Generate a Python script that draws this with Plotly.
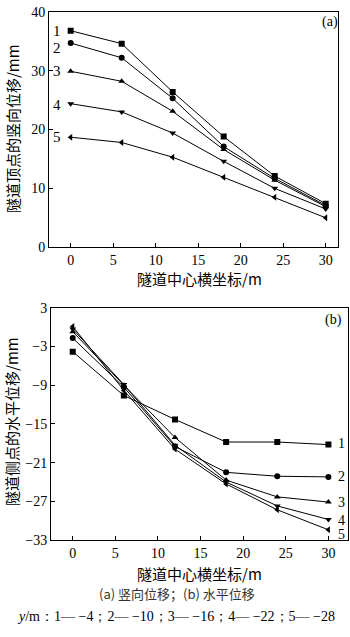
import plotly.graph_objects as go

x_pos = [0, 6, 12, 18, 24, 30]
series_names = ["1", "2", "3", "4", "5"]
marker_symbols = ["square", "circle", "triangle-up", "triangle-down", "triangle-left"]

# (a) vertical displacement at tunnel crown, mm
vert_1 = [36.8, 34.6, 26.4, 18.8, 12.1, 7.4]
vert_2 = [34.7, 32.2, 25.3, 17.1, 11.7, 7.1]
vert_3 = [29.9, 28.2, 23.1, 16.6, 11.4, 6.9]
vert_4 = [24.4, 23.0, 19.4, 14.6, 10.0, 6.5]
vert_5 = [18.7, 17.8, 15.3, 11.9, 8.5, 5.0]

# (b) horizontal displacement at tunnel side, mm
horiz_1 = [-3.8, -10.6, -14.3, -17.8, -17.8, -18.2]
horiz_2 = [-1.7, -9.3, -18.5, -22.5, -23.1, -23.2]
horiz_3 = [-0.7, -9.0, -17.1, -23.7, -26.3, -27.1]
horiz_4 = [-0.3, -8.9, -18.3, -24.0, -27.7, -29.8]
horiz_5 = [0.1, -9.8, -18.9, -24.3, -28.3, -31.4]

vert = [vert_1, vert_2, vert_3, vert_4, vert_5]
horiz = [horiz_1, horiz_2, horiz_3, horiz_4, horiz_5]

# label positions
label_a_y = [36.8, 33.9, 29.9, 24.2, 18.7]
label_b_y = [-18.1, -23.2, -27.1, -29.9, -32.2]

x_ticks = [0, 5, 10, 15, 20, 25, 30]
ya_ticks = [0, 10, 20, 30, 40]
yb_ticks = [3, -3, -9, -15, -21, -27, -33]

W, H = 350, 637
def px(x):
    return x / W
def py(y):
    return 1 - y / H

SERIF = "Liberation Serif"
CJK = "Noto Sans CJK SC"

fig = go.Figure()
for i in range(5):
    fig.add_trace(go.Scatter(x=x_pos, y=vert[i], mode="lines+markers",
                             line=dict(color="black", width=1),
                             marker=dict(symbol=marker_symbols[i], size=6, color="black"),
                             xaxis="x", yaxis="y", showlegend=False))
    fig.add_trace(go.Scatter(x=x_pos, y=horiz[i], mode="lines+markers",
                             line=dict(color="black", width=1),
                             marker=dict(symbol=marker_symbols[i], size=6, color="black"),
                             xaxis="x2", yaxis="y2", showlegend=False))

axis_common = dict(showgrid=False, zeroline=False, showline=True, linecolor="black",
                   linewidth=1, mirror=True, ticks="inside", ticklen=4, tickcolor="black",
                   tickfont=dict(family=SERIF, size=14, color="black"))

fig.update_layout(
    width=W, height=H, margin=dict(l=0, r=0, t=0, b=0),
    plot_bgcolor="white", paper_bgcolor="white",
    xaxis=dict(domain=[px(49), px(338)], range=[-2.55, 31.45], anchor="y",
               tickvals=x_ticks, **axis_common),
    yaxis=dict(domain=[py(246), py(5)], range=[0, 40], anchor="x",
               tickvals=ya_ticks, **axis_common),
    xaxis2=dict(domain=[px(51), px(348)], range=[-2.55, 32.3], anchor="y2",
                tickvals=x_ticks, **axis_common),
    yaxis2=dict(domain=[py(546), py(308)], range=[-33, 3], anchor="x2",
                tickvals=yb_ticks, ticktext=[str(v).replace("-", "\u2212") for v in yb_ticks],
                **axis_common),
)

ann = []
for i in range(5):
    ann.append(dict(x=-0.9, y=label_a_y[i], xref="x", yref="y", text=series_names[i],
                    showarrow=False, xanchor="right", yanchor="middle",
                    font=dict(family=SERIF, size=15, color="black")))
    ann.append(dict(x=30.9, y=label_b_y[i], xref="x2", yref="y2", text=series_names[i],
                    showarrow=False, xanchor="left", yanchor="middle",
                    font=dict(family=SERIF, size=14, color="black")))

ann.append(dict(x=px(330), y=py(15), xref="paper", yref="paper", text="(a)", showarrow=False,
                xanchor="center", yanchor="middle", font=dict(family=SERIF, size=14, color="black")))
ann.append(dict(x=px(333), y=py(321), xref="paper", yref="paper", text="(b)", showarrow=False,
                xanchor="center", yanchor="middle", font=dict(family=SERIF, size=14, color="black")))

ann.append(dict(x=px(12), y=py(125), xref="paper", yref="paper", text="隧道顶点的竖向位移/mm",
                textangle=-90, showarrow=False, xanchor="center", yanchor="middle",
                font=dict(family=CJK, size=15, color="black")))
ann.append(dict(x=px(12), y=py(425), xref="paper", yref="paper", text="隧道侧点的水平位移/mm",
                textangle=-90, showarrow=False, xanchor="center", yanchor="middle",
                font=dict(family=CJK, size=15, color="black")))
ann.append(dict(x=px(199), y=py(278), xref="paper", yref="paper", text="隧道中心横坐标/m",
                showarrow=False, xanchor="center", yanchor="middle",
                font=dict(family=CJK, size=15, color="black")))
ann.append(dict(x=px(199), y=py(580), xref="paper", yref="paper", text="隧道中心横坐标/m",
                showarrow=False, xanchor="center", yanchor="middle",
                font=dict(family=CJK, size=15, color="black")))
ann.append(dict(x=px(177), y=py(601), xref="paper", yref="paper", text="(a) 竖向位移；(b) 水平位移",
                showarrow=False, xanchor="center", yanchor="middle",
                font=dict(family=CJK, size=13, color="#333333")))
ann.append(dict(x=px(176), y=py(624), xref="paper", yref="paper",
                text="<i>y</i>/m：1— −4；2— −10；3— −16；4— −22；5— −28",
                showarrow=False, xanchor="center", yanchor="middle",
                font=dict(family=SERIF, size=14, color="black")))

fig.update_layout(annotations=ann)
fig.write_html("out.html")
